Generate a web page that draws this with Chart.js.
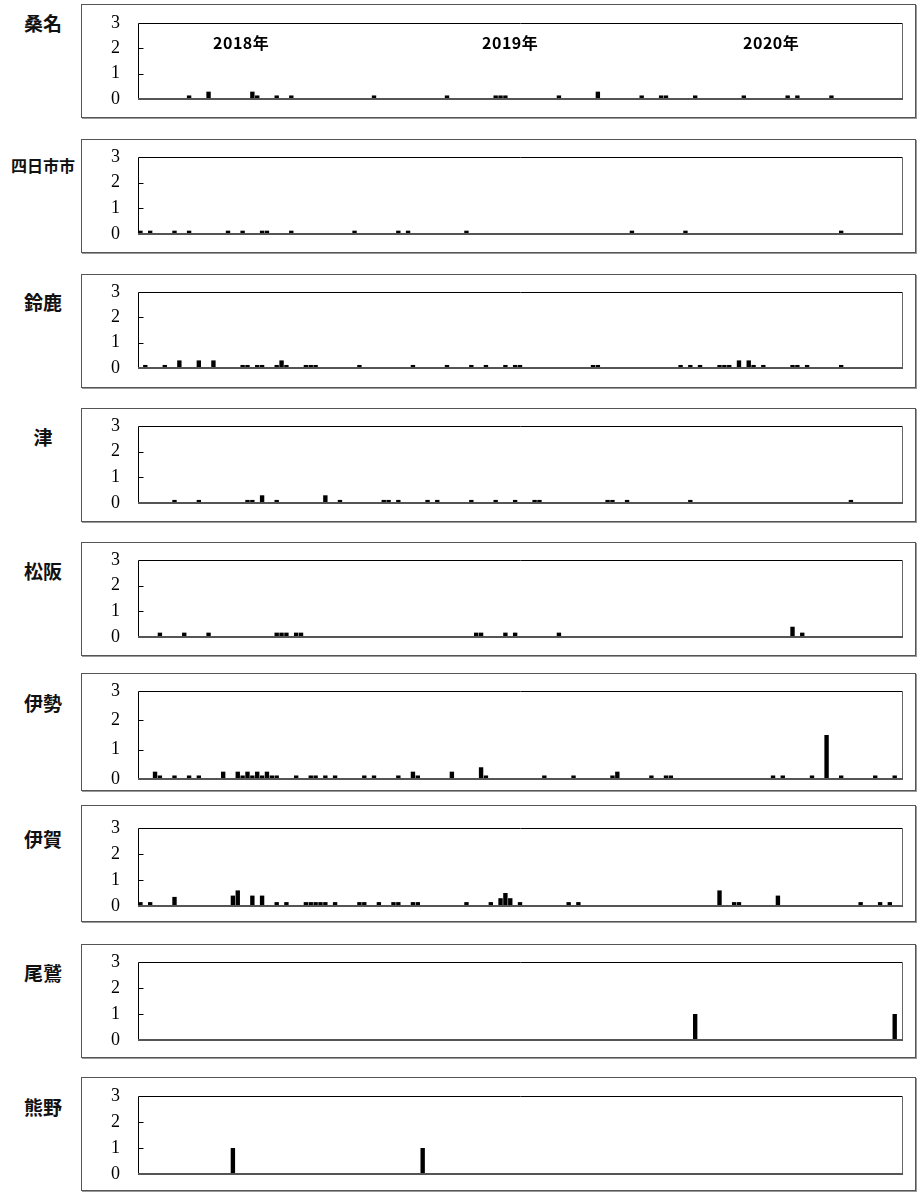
<!DOCTYPE html>
<html>
<head>
<meta charset="utf-8">
<script src="https://cdn.jsdelivr.net/npm/chart.js@4.4.1/dist/chart.umd.min.js"></script>
<style>
body { margin: 0; background: #fff; width: 921px; height: 1192px; position: relative; overflow: hidden; font-family: "Noto Sans CJK JP", sans-serif; }
.box { position: absolute; left: 81px; width: 835px; border: 1px solid #555; box-sizing: border-box; box-shadow: 1px 1px 0 #999; }
.name { position: absolute; left: 3px; width: 80px; text-align: center; font-weight: bold; font-size: 19px; color: #111; line-height: 20px; }
.yr { position: absolute; top: 33px; font-weight: bold; font-size: 16px; letter-spacing: 0.5px; color: #000; line-height: 18px; }
canvas { position: absolute; left: 88px; }
</style>
</head>
<body>
<div id="wrap"></div>
<script>
// 週ごと (2018年第1週〜2020年第53週)
const years = ['2018', '2019', '2020'];
const weeksInYear = [52, 52, 53];
const yTicks = [0, 1, 2, 3];

const areaNames = ['桑名', '四日市市', '鈴鹿', '津', '松阪', '伊勢', '伊賀', '尾鷲', '熊野'];

// 値のある週 (通し番号) と定点あたり報告数
const kuwanaWeeks = [10, 14, 23, 24, 28, 31, 48, 63, 73, 74, 75, 86, 94, 103, 107, 108, 114, 124, 133, 135, 142];
const kuwanaVals  = [0.14, 0.29, 0.29, 0.14, 0.14, 0.14, 0.14, 0.14, 0.14, 0.14, 0.14, 0.14, 0.29, 0.14, 0.14, 0.14, 0.14, 0.14, 0.14, 0.14, 0.14];

const yokkaichiWeeks = [0, 2, 7, 10, 18, 21, 25, 26, 31, 44, 53, 55, 67, 101, 112, 144];
const yokkaichiVals  = [0.13, 0.13, 0.13, 0.13, 0.13, 0.13, 0.13, 0.13, 0.13, 0.13, 0.13, 0.13, 0.13, 0.13, 0.13, 0.13];

const suzukaWeeks = [1, 5, 8, 12, 15, 21, 22, 24, 25, 28, 29, 30, 34, 35, 36, 45, 56, 63, 68, 71, 75, 77, 78, 93, 94, 111, 113, 115, 119, 120, 121, 123, 125, 126, 128, 134, 135, 137, 144];
const suzukaVals  = [0.12, 0.12, 0.3, 0.3, 0.3, 0.12, 0.12, 0.12, 0.12, 0.12, 0.3, 0.12, 0.12, 0.12, 0.12, 0.12, 0.12, 0.12, 0.12, 0.12, 0.12, 0.12, 0.12, 0.12, 0.12, 0.12, 0.12, 0.12, 0.12, 0.12, 0.12, 0.3, 0.3, 0.12, 0.12, 0.12, 0.12, 0.12, 0.12];

const tsuWeeks = [7, 12, 22, 23, 25, 28, 38, 41, 50, 51, 53, 59, 61, 68, 73, 77, 81, 82, 96, 97, 100, 113, 146];
const tsuVals  = [0.12, 0.12, 0.12, 0.12, 0.3, 0.12, 0.3, 0.12, 0.12, 0.12, 0.12, 0.12, 0.12, 0.12, 0.12, 0.12, 0.12, 0.12, 0.12, 0.12, 0.12, 0.12, 0.12];

const matsusakaWeeks = [4, 9, 14, 28, 29, 30, 32, 33, 69, 70, 75, 77, 86, 134, 136];
const matsusakaVals  = [0.17, 0.17, 0.17, 0.17, 0.17, 0.17, 0.17, 0.17, 0.17, 0.17, 0.17, 0.17, 0.17, 0.4, 0.17];

const iseWeeks = [3, 4, 7, 10, 12, 17, 20, 21, 22, 23, 24, 25, 26, 27, 28, 32, 35, 36, 38, 40, 46, 48, 53, 56, 57, 64, 70, 71, 83, 89, 97, 98, 105, 108, 109, 130, 132, 138, 141, 144, 151, 155];
const iseVals  = [0.25, 0.12, 0.12, 0.12, 0.12, 0.25, 0.25, 0.12, 0.25, 0.12, 0.25, 0.12, 0.25, 0.12, 0.12, 0.12, 0.12, 0.12, 0.12, 0.12, 0.12, 0.12, 0.12, 0.25, 0.12, 0.25, 0.4, 0.12, 0.12, 0.12, 0.12, 0.25, 0.12, 0.12, 0.12, 0.12, 0.12, 0.12, 1.5, 0.12, 0.12, 0.12];

const igaWeeks = [0, 2, 7, 19, 20, 23, 25, 28, 30, 34, 35, 36, 37, 38, 40, 45, 46, 49, 52, 53, 56, 57, 67, 72, 74, 75, 76, 78, 88, 90, 119, 122, 123, 131, 148, 152, 154];
const igaVals  = [0.15, 0.15, 0.35, 0.4, 0.6, 0.4, 0.4, 0.15, 0.15, 0.15, 0.15, 0.15, 0.15, 0.15, 0.15, 0.15, 0.15, 0.15, 0.15, 0.15, 0.15, 0.15, 0.15, 0.15, 0.3, 0.5, 0.3, 0.15, 0.15, 0.15, 0.6, 0.15, 0.15, 0.4, 0.15, 0.15, 0.15];

const owaseWeeks = [114, 155];
const owaseVals  = [1, 1];

const kumanoWeeks = [19, 58];
const kumanoVals  = [1, 1];

const allWeeks = [kuwanaWeeks, yokkaichiWeeks, suzukaWeeks, tsuWeeks, matsusakaWeeks, iseWeeks, igaWeeks, owaseWeeks, kumanoWeeks];
const allVals = [kuwanaVals, yokkaichiVals, suzukaVals, tsuVals, matsusakaVals, iseVals, igaVals, owaseVals, kumanoVals];

// 配置 (枠の上下, グラフ領域の上下, 地区名の位置)
const layout = [
    { box: [4, 118], plot: [23, 99], nameY: 13, nameSize: 19 },
    { box: [139, 253], plot: [157, 234], nameY: 155, nameSize: 16 },
    { box: [274, 388], plot: [292, 368], nameY: 292, nameSize: 19 },
    { box: [408, 522], plot: [426, 503], nameY: 427, nameSize: 19 },
    { box: [542, 656], plot: [560, 637], nameY: 561, nameSize: 19 },
    { box: [673, 791], plot: [691, 779], nameY: 693, nameSize: 19 },
    { box: [805, 922], plot: [828, 906], nameY: 829, nameSize: 19 },
    { box: [944, 1058], plot: [962, 1040], nameY: 963, nameSize: 19 },
    { box: [1077, 1191], plot: [1096, 1174], nameY: 1097, nameSize: 19 }
];

let labels = [];
years.forEach((y, i) => {
    for (let w = 1; w <= weeksInYear[i]; w++) labels.push(y + '-' + w);
});

function buildSeries(weeks, vals) {
    let s = new Array(labels.length).fill(null);
    weeks.forEach((w, i) => { s[w] = vals[i]; });
    return s;
}

// 枠線と内向きの目盛り
const framePlugin = {
    id: 'frame',
    afterDraw(chart) {
        const ctx = chart.ctx, a = chart.chartArea, ys = chart.scales.y;
        const l = Math.round(a.left) + 0.5, r = Math.round(a.right) + 0.5;
        const t = Math.round(a.top) + 0.5, b = Math.round(a.bottom);
        ctx.save();
        ctx.lineWidth = 1;
        ctx.strokeStyle = '#000';
        ctx.beginPath();
        ctx.moveTo(l, b); ctx.lineTo(l, t); ctx.lineTo(r, t);
        ctx.stroke();
        ctx.strokeStyle = '#666';
        ctx.beginPath();
        ctx.moveTo(r, t); ctx.lineTo(r, b);
        ctx.stroke();
        ctx.lineWidth = 2;
        ctx.strokeStyle = '#555';
        ctx.beginPath();
        ctx.moveTo(l - 0.5, b); ctx.lineTo(r + 0.5, b);
        ctx.stroke();
        ctx.lineWidth = 1;
        ctx.strokeStyle = '#000';
        yTicks.slice(1, -1).forEach(v => {
            const py = Math.round(ys.getPixelForValue(v)) + 0.5;
            ctx.beginPath();
            ctx.moveTo(l, py); ctx.lineTo(l + 5, py);
            ctx.stroke();
        });
        ctx.restore();
    }
};

const wrap = document.getElementById('wrap');
const canvasLeft = 88, plotLeft = 138, plotRight = 902, canvasWidth = 820;

areaNames.forEach((name, k) => {
    const L = layout[k];
    let box = document.createElement('div');
    box.className = 'box';
    box.style.top = L.box[0] + 'px';
    box.style.height = (L.box[1] - L.box[0]) + 'px';
    wrap.appendChild(box);

    let nm = document.createElement('div');
    nm.className = 'name';
    nm.textContent = name;
    nm.style.top = L.nameY + 'px';
    nm.style.fontSize = L.nameSize + 'px';
    wrap.appendChild(nm);

    const pad = 13;
    let cv = document.createElement('canvas');
    cv.width = canvasWidth;
    cv.height = L.plot[1] - L.plot[0] + pad * 2;
    cv.style.top = (L.plot[0] - pad) + 'px';
    wrap.appendChild(cv);

    new Chart(cv, {
        type: 'bar',
        data: {
            labels: labels,
            datasets: [{
                data: buildSeries(allWeeks[k], allVals[k]),
                backgroundColor: '#000',
                borderWidth: 0,
                categoryPercentage: 1.0,
                barPercentage: 0.9
            }]
        },
        options: {
            responsive: false,
            animation: false,
            devicePixelRatio: 1,
            layout: { padding: { top: pad, bottom: pad, left: 0, right: canvasLeft + canvasWidth - plotRight } },
            plugins: { legend: { display: false }, tooltip: { enabled: false } },
            scales: {
                x: { display: false },
                y: {
                    min: 0, max: 3,
                    afterFit: (s) => { s.width = plotLeft - canvasLeft; },
                    afterBuildTicks: (s) => { s.ticks = yTicks.map(v => ({ value: v })); },
                    // 透明な目盛り線で数字と軸の間隔をとる
                    grid: { display: true, drawOnChartArea: false, drawTicks: true, tickLength: 18, color: 'rgba(0,0,0,0)' },
                    border: { display: false },
                    ticks: { color: '#000', padding: 0, font: { family: '"Liberation Serif", serif', size: 18 } }
                }
            }
        },
        plugins: [framePlugin]
    });
});

// 年の表示
const yearPos = [213, 482, 743];
years.forEach((y, i) => {
    let d = document.createElement('div');
    d.className = 'yr';
    d.textContent = y + '年';
    d.style.left = yearPos[i] + 'px';
    wrap.appendChild(d);
});
</script>
</body>
</html>
